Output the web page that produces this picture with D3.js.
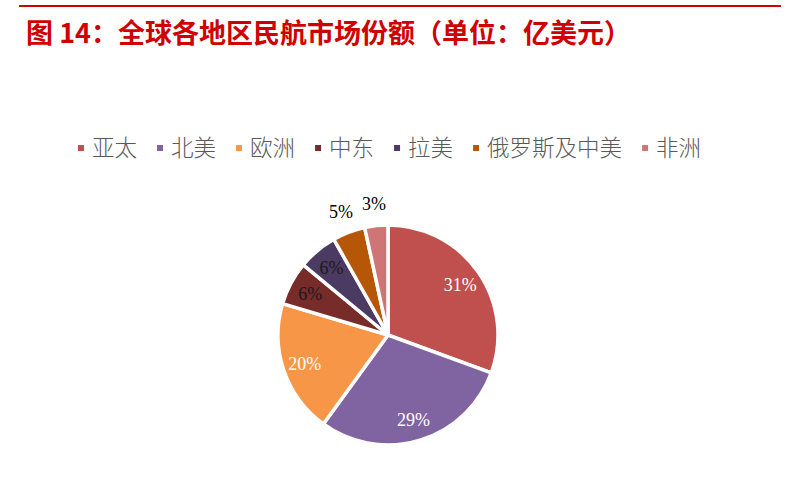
<!DOCTYPE html>
<html><head><meta charset="utf-8">
<script src="https://cdn.jsdelivr.net/npm/d3@7"></script>
<style>
html,body{margin:0;padding:0;background:#fff;}
svg{display:block;}
</style></head>
<body>
<svg id="chart" width="787" height="494"></svg>
<script>
const title = "图 14：全球各地区民航市场份额（单位：亿美元）";
const regions = ["亚太","北美","欧洲","中东","拉美","俄罗斯及中美","非洲"];
const shares = [30.6, 29.4, 19.6, 6.4, 5.8, 4.8, 3.4];
const colors = ["#C0504D","#8064A2","#F79646","#772C2A","#4B3A62","#B65708","#CF7576"];
const labelColors = ["#ffffff","#ffffff","#ffffff","#1a1a1a","#1a1a1a","#000000","#000000"];
const labelOutside = [false,false,false,false,false,true,true];

const svg = d3.select("#chart");

// top rule
svg.append("line").attr("x1",19).attr("x2",781).attr("y1",6).attr("y2",6)
  .attr("stroke","#D40000").attr("stroke-width",2.2);

// title
svg.append("text").attr("x",26).attr("y",43)
  .attr("font-family","'Noto Sans CJK SC', sans-serif").attr("font-weight","bold")
  .attr("font-size",27).attr("fill","#D00000").text(title);

// legend
const legend = svg.append("g").attr("font-family","'Noto Sans CJK SC', sans-serif")
  .attr("font-weight",300)
  .attr("font-size",22.5).attr("fill","#595959");
let lx = 78;
regions.forEach((r,i)=>{
  legend.append("rect").attr("x",lx).attr("y",145).attr("width",6).attr("height",6).attr("fill",colors[i]);
  const t = legend.append("text").attr("x",lx+14).attr("y",156).text(r);
  const w = t.node().getComputedTextLength();
  lx += 14 + w + 20;
});

// pie
const cx = 388, cy = 335, R = 110;
const pie = d3.pie().sort(null).value(d=>d)(shares);
const arc = d3.arc().innerRadius(0).outerRadius(R);
const g = svg.append("g").attr("transform",`translate(${cx},${cy})`);
g.selectAll("path").data(pie).join("path")
  .attr("d",arc).attr("fill",(d,i)=>colors[i])
  .attr("stroke","#fff").attr("stroke-width",3.5).attr("stroke-linejoin","miter");

const total = d3.sum(shares);
const inArc = d3.arc().innerRadius(R*0.8).outerRadius(R*0.8);
const outArc = d3.arc().innerRadius(R*1.2).outerRadius(R*1.2);
g.selectAll("text.lbl").data(pie).join("text").attr("class","lbl")
  .attr("transform",(d,i)=>`translate(${(labelOutside[i]?outArc:inArc).centroid(d)})`)
  .attr("text-anchor","middle").attr("dy","0.35em")
  .attr("font-family","'Liberation Serif', 'Times New Roman', serif")
  .attr("font-size",18).attr("fill",(d,i)=>labelColors[i])
  .text(d=>Math.round(d.value/total*100)+"%");
</script>
</body></html>
